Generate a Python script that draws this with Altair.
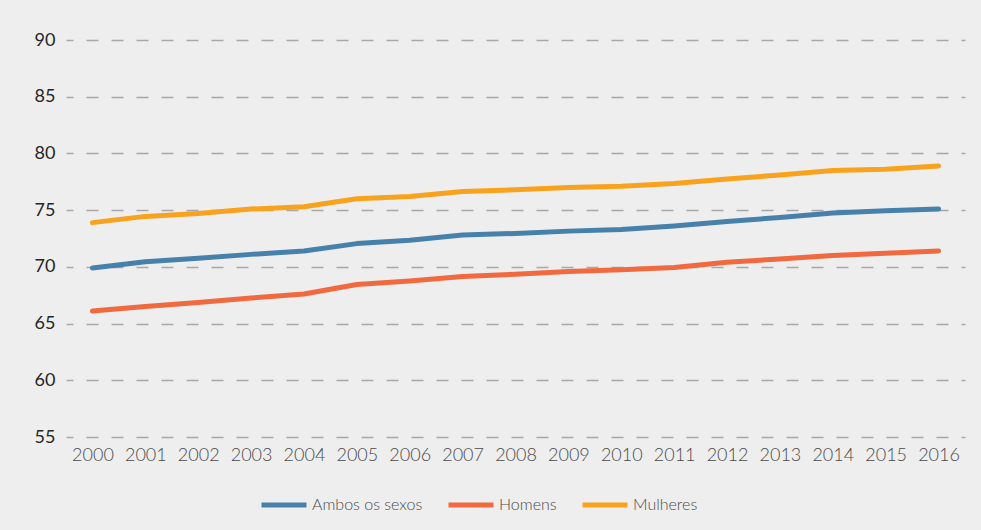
import altair as alt
import pandas as pd

years = ["2000", "2001", "2002", "2003", "2004", "2005", "2006", "2007", "2008",
         "2009", "2010", "2011", "2012", "2013", "2014", "2015", "2016"]
ambos = [69.9, 70.45, 70.75, 71.1, 71.4, 72.05, 72.35, 72.8, 72.95, 73.15,
         73.3, 73.6, 74.0, 74.35, 74.75, 74.95, 75.1]
homens = [66.1, 66.5, 66.85, 67.25, 67.6, 68.45, 68.75, 69.15, 69.35, 69.6,
          69.75, 69.95, 70.4, 70.7, 71.0, 71.2, 71.4]
mulheres = [73.9, 74.45, 74.7, 75.1, 75.3, 76.0, 76.2, 76.65, 76.8, 77.0,
            77.1, 77.35, 77.75, 78.1, 78.5, 78.6, 78.9]
series_names = ["Ambos os sexos", "Homens", "Mulheres"]
series_colors = ["#4681ab", "#f0693f", "#f9a21d"]
y_ticks = [55, 60, 65, 70, 75, 80, 85, 90]

rows = []
for name, vals in zip(series_names, [ambos, homens, mulheres]):
    for yr, v in zip(years, vals):
        rows.append({"ano": yr, "valor": v, "serie": name})
df = pd.DataFrame(rows)

FONT = "Lato"

chart = alt.Chart(df).mark_line(strokeWidth=5, strokeCap="round", strokeJoin="round").encode(
    x=alt.X("ano:O", sort=years,
            scale=alt.Scale(type="point", padding=0.5),
            axis=alt.Axis(title=None, labelAngle=0, ticks=False, domain=False, grid=False,
                          labelFont=FONT, labelFontSize=18, labelFontWeight=300,
                          labelColor="#4a4a4a", labelPadding=9)),
    y=alt.Y("valor:Q", scale=alt.Scale(domain=[55, 90], nice=False, zero=False),
            axis=alt.Axis(title=None, values=y_ticks, ticks=False, domain=False, grid=True,
                          gridColor="#a8a8a8", gridWidth=1.4, gridDash=[12, 13], gridDashOffset=5,
                          labelFont=FONT, labelFontSize=18, labelColor="#262626",
                          labelPadding=11)),
    color=alt.Color("serie:N", sort=series_names,
                    scale=alt.Scale(domain=series_names, range=series_colors),
                    legend=alt.Legend(title=None, orient="none", direction="horizontal",
                                      legendX=193, legendY=440,
                                      symbolType="stroke", symbolSize=2025, symbolStrokeWidth=5,
                                      labelFont=FONT, labelFontSize=16, labelFontWeight=300,
                                      labelColor="#4a4a4a", labelOffset=3, columnPadding=15,
                                      padding=0)),
).properties(
    width=899, height=397,
    autosize=alt.AutoSizeParams(type="none"),
    padding={"left": 66, "top": 40, "right": 16, "bottom": 93},
    background="#eeeeee",
).configure_view(stroke=None)

chart.save("out.html", embed_options={"renderer": "svg", "actions": False})
